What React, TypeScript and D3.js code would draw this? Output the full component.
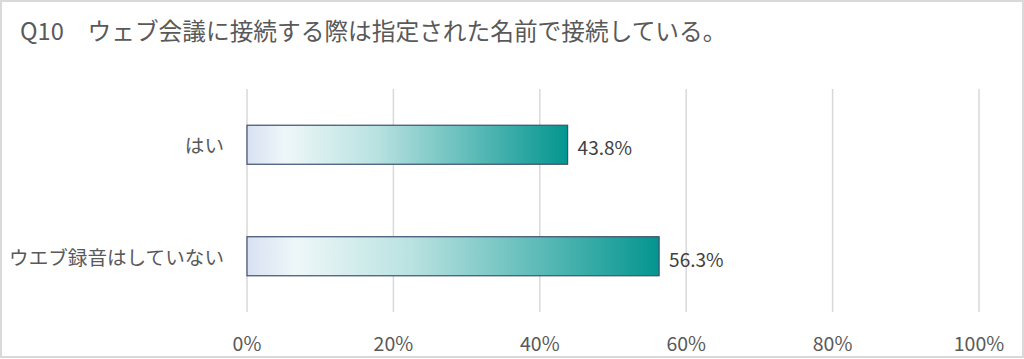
import React from "react";
import * as d3 from "d3";

const title = "Q10\u3000ウェブ会議に接続する際は指定された名前で接続している。";
const categories = ["はい", "ウエブ録音はしていない"];
const values = [43.8, 56.3];
const tickValues = [0, 20, 40, 60, 80, 100];

const W = 1024;
const H = 359;
const FONT = "'Noto Sans CJK JP', 'Noto Sans', sans-serif";

export default function App() {
  const x = d3.scaleLinear().domain([0, 100]).range([247, 979]);
  const y = d3
    .scaleBand<string>()
    .domain(categories)
    .range([89, 312])
    .paddingInner(0.65)
    .paddingOuter(0.325);

  const stops = [
    { o: 0, c: "#d8e1f2" },
    { o: 0.12, c: "#eef7f8" },
    { o: 0.4, c: "#b9e2e1" },
    { o: 0.7, c: "#5fbcb9" },
    { o: 1, c: "#04958f" },
  ];

  return (
    <svg
      width={W}
      height={H}
      style={{ position: "absolute", left: 0, top: 0, display: "block" }}
      fontFamily={FONT}
    >
      <defs>
        <linearGradient id="barGrad" x1="0" y1="0" x2="1" y2="0">
          {stops.map((s, i) => (
            <stop key={i} offset={s.o} stopColor={s.c} />
          ))}
        </linearGradient>
      </defs>
      <rect x={0} y={0} width={W} height={H} fill="#ffffff" />
      <rect x={1} y={1} width={W - 2} height={H - 3} fill="none" stroke="#d9d9d9" strokeWidth={2} />
      <text x={20} y={40} fontSize={23.7} fill="#595959">
        {title}
      </text>
      {tickValues.map((t) => (
        <g key={t}>
          <line x1={x(t)} x2={x(t)} y1={89} y2={312} stroke="#d9d9d9" strokeWidth={1.5} />
          <text x={x(t)} y={351} fontSize={19.5} fill="#595959" textAnchor="middle">
            {t}%
          </text>
        </g>
      ))}
      {categories.map((c, i) => {
        const y0 = y(c)!;
        const bw = y.bandwidth();
        return (
          <g key={c}>
            <rect
              x={x(0)}
              y={y0}
              width={x(values[i]) - x(0)}
              height={bw}
              fill="url(#barGrad)"
              stroke="#3e4f6e"
              strokeWidth={1.2}
            />
            <text x={224} y={y0 + bw / 2} fontSize={19.6} fill="#595959" textAnchor="end" dominantBaseline="central">
              {c}
            </text>
            <text x={x(values[i]) + 10} y={y0 + bw / 2 + 2} fontSize={19} fill="#404040" dominantBaseline="central">
              {values[i].toFixed(1)}%
            </text>
          </g>
        );
      })}
    </svg>
  );
}
